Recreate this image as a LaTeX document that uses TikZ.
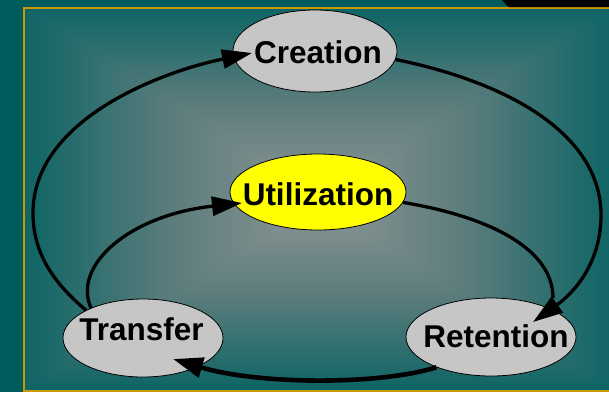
\documentclass[tikz,border=0pt]{standalone}
\usepackage{fontspec}
\setmainfont{Liberation Sans}
\usetikzlibrary{arrows.meta,shapes.geometric,calc}
\definecolor{outerbg}{RGB}{0,92,92}
\definecolor{edgebg}{RGB}{14,101,101}
\definecolor{midbg}{RGB}{92,124,124}
\definecolor{centerbg}{RGB}{143,150,150}
\definecolor{goldline}{RGB}{204,153,0}
\definecolor{ellgray}{RGB}{198,198,198}
\definecolor{ellyellow}{RGB}{255,255,0}
\begin{document}
\begin{tikzpicture}[x=1pt,y=-1pt,
  ell/.style={ellipse, draw=black, line width=0.8pt, inner sep=0pt},
  lbl/.style={font=\fontsize{31.5}{36}\selectfont\bfseries, inner sep=0pt, anchor=base},
  conn/.style={line width=3.3pt, -{Triangle[length=30pt,width=19pt]}},
  connplain/.style={line width=3.3pt},
  connthick/.style={line width=4.6pt, -{Triangle[length=30pt,width=20pt]}},
]
\useasboundingbox (0,0) rectangle (609,392);
\fill[outerbg] (0,0) rectangle (609,392);
% rectangular gradient made of four shaded triangles
\coordinate (gc) at (318,199);
\coordinate (gtl) at (24,8);
\coordinate (gtr) at (612,8);
\coordinate (gbl) at (24,390);
\coordinate (gbr) at (612,390);
\shade[top color=edgebg,bottom color=centerbg,middle color=midbg] (gtl) -- (gtr) -- (gc) -- cycle;
\shade[top color=centerbg,bottom color=edgebg,middle color=midbg] (gbl) -- (gbr) -- (gc) -- cycle;
\shade[left color=edgebg,right color=centerbg,middle color=midbg] (gtl) -- (gbl) -- (gc) -- cycle;
\shade[left color=centerbg,right color=edgebg,middle color=midbg] (gtr) -- (gbr) -- (gc) -- cycle;
\draw[goldline, line width=2pt] (23.8,8) rectangle (616,390.5);
\fill[black] (502,0) -- (508.5,7) -- (609,7) -- (609,0) -- cycle;

% ellipses
\node[ell, fill=ellgray, minimum width=164pt, minimum height=82pt] (creation) at (315,51) {};
\node[ell, fill=ellyellow, minimum width=176pt, minimum height=76pt] (utilization) at (318,192) {};
\node[ell, fill=ellgray, minimum width=160pt, minimum height=78pt] (transfer) at (143,338) {};
\node[ell, fill=ellgray, minimum width=170pt, minimum height=78pt] (retention) at (491,337) {};

% connectors
\draw[conn] (creation.-6) .. controls (520,85) and (601,140) .. (601,215)
  .. controls (601,262) and (575,292) .. ($(retention.center)+(42,-15)$);
\draw[connplain] (utilization.-7) .. controls (480,215) and (553,245) .. ($(retention.center)+(62,-39)$);
\draw[conn] (transfer.154) .. controls (50,280) and (33,250) .. (33,213)
  .. controls (33,120) and (160,72) .. ($(creation.center)+(-63,2)$);
\draw[conn] (transfer.150) .. controls (72,265) and (130,215) .. ($(utilization.center)+(-76,11)$);
\draw[connthick] (retention.209) .. controls (380,385) and (260,385) .. ($(transfer.center)+(30,21)$);

% labels
\node[lbl] (tcreation) at (318,63) {Creation};
\node[lbl] (tutilization) at (318,205) {Utilization};
\node[lbl] (ttransfer) at (141.5,340) {Transfer};
\node[lbl] (tretention) at (496,347) {Retention};
\end{tikzpicture}
\end{document}
